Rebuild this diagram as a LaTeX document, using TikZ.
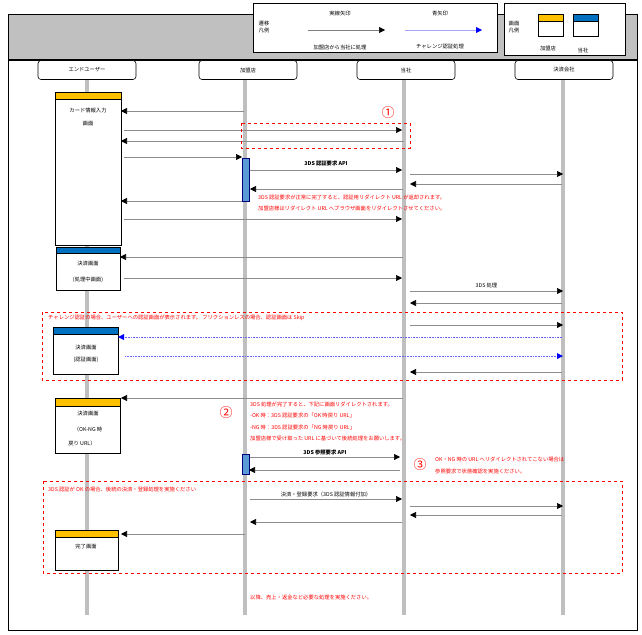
\documentclass[tikz,border=0pt]{standalone}
\usepackage{fontspec}
\setmainfont{Noto Sans CJK JP}
\usetikzlibrary{arrows.meta}
\definecolor{hdr}{HTML}{C0C0C0}
\definecolor{ora}{HTML}{FFC000}
\definecolor{blu}{HTML}{0070C0}
\definecolor{act}{HTML}{5B9BD5}
\definecolor{lg}{HTML}{BFBFBF}
\definecolor{rd}{HTML}{FF0000}
\begin{document}
\begin{tikzpicture}[x=1pt,y=-1pt,font=\fontsize{5.3}{6.5}\selectfont,
  msg/.style={draw=gray!90,line width=0.6pt,-{Triangle[length=6pt,width=6pt,color=black]}},
  bmsg/.style={draw=blue!60,densely dotted,line width=0.6pt,-{Triangle[length=6pt,width=6pt,color=blue,line width=0pt]}},
  actor/.style={draw,rounded corners=3pt,line width=0.6pt,minimum width=98pt,minimum height=19pt,fill=white},
  scr/.style={draw,line width=1pt,fill=white},
  rbox/.style={draw=rd,dashed,line width=0.8pt},
  rtxt/.style={text=rd,anchor=west,inner sep=0pt},
  lbl/.style={anchor=south,inner sep=1pt},
  circ/.style={text=rd,font=\fontsize{13}{13}\selectfont,inner sep=0pt}]
\useasboundingbox (0,0) rectangle (642,634);
% frame
\fill[hdr] (8,15) rectangle (637,60);
\draw[line width=1pt] (8,15) rectangle (637,630);
\draw[line width=1.2pt] (8,60) -- (637,60);
% legends
\draw[line width=1pt,fill=white] (253,4) rectangle (497,53);
\node[align=left] at (264,27) {遷移\\凡例};
\node at (340,13) {実線矢印};
\draw[msg,draw=gray] (308,30) -- (385,30);
\node at (440,13) {青矢印};
\draw[blue!35,line width=0.8pt] (405,30) -- (477,30);
\fill[blue] (476,27) -- (482,30) -- (476,33) -- cycle;
\node at (340,47) {加盟店から当社に処理};
\node at (440,47) {チャレンジ認証処理};
\draw[line width=1pt,fill=white] (504,4) rectangle (625,56);
\node[align=left] at (514,27) {画面\\凡例};
\draw[line width=0.8pt,fill=white] (538,14) rectangle (563,36);
\draw[line width=0.8pt,fill=ora] (538,14) rectangle (563,21);
\draw[line width=0.8pt,fill=white] (573,14) rectangle (598,36);
\draw[line width=0.8pt,fill=blu] (573,14) rectangle (598,21);
\node at (548,48) {加盟店};
\node at (583,50) {当社};
% lifelines
\foreach \x in {87,245,404,563} {
  \fill[lg] (\x-2,80) rectangle (\x+2,615);
}
\node[actor] (U) at (87,70) {エンドユーザー};
\node[actor] (M) at (248,70) {加盟店};
\node[actor] (S) at (406,70) {当社};
\node[actor] (P) at (564,70) {決済会社};
% screens
\draw[scr] (55,92) rectangle (121,245); \draw[scr,fill=ora] (55,92) rectangle (121,99);
\node at (88,110) {カード情報入力}; \node at (88,124) {画面};
\draw[scr] (56,247) rectangle (120,290); \draw[scr,fill=blu] (56,247) rectangle (120,253);
\node at (88,264) {決済画面}; \node at (88,280) {(処理中画面)};
\draw[scr] (53,327) rectangle (118,374); \draw[scr,fill=blu] (53,327) rectangle (118,334);
\node at (86,348) {決済画面}; \node at (86,360) {(認証画面)};
\draw[scr] (55,398) rectangle (120,453); \draw[scr,fill=ora] (55,398) rectangle (120,406);
\node at (88,414) {決済画面}; \node at (88,429) {（OK-NG 時}; \node at (82,443) {戻り URL）};
\draw[scr] (55,530) rectangle (118,570); \draw[scr,fill=ora] (55,530) rectangle (118,537);
\node at (86,546) {完了画面};
% activation bars
\draw[blue!50!black,fill=act] (242,158) rectangle (249,201);
\draw[blue!50!black,fill=act] (242,454) rectangle (249,474);
% messages
\draw[msg] (244,111) -- (121,111);
\draw[msg] (124,130) -- (402,130);
\draw[msg] (404,141) -- (121,141);
\draw[msg] (124,157) -- (242,157);
\draw[msg] (250,170) -- node[lbl,font=\fontsize{5.3}{6.5}\selectfont\bfseries,yshift=3pt] {3DS 認証要求 API} (402,170);
\draw[msg] (410,174) -- (563,174);
\draw[msg] (562,184) -- (410,184);
\draw[msg] (403,189) -- (250,189);
\draw[msg] (242,201) -- (121,201);
\draw[msg] (124,219) -- (402,219);
\node[rtxt] at (258,197) {3DS 認証要求が正常に完了すると、認証用リダイレクト URL が返却されます。};
\node[rtxt] at (258,208) {加盟店様はリダイレクト URL へブラウザ画面をリダイレクトさせてください。};
\draw[rbox] (241,123) rectangle (410,148);
\node[circ] at (388,113) {①};
\draw[msg] (403,257) -- (120,257);
\draw[msg] (124,278) -- (402,278);
\draw[msg] (410,291) -- node[lbl,yshift=2pt] {3DS 処理} (563,291);
\draw[msg] (562,303) -- (410,303);
\draw[rbox] (42,312) rectangle (622,380);
\node[rtxt] at (48,318) {チャレンジ認証の場合、ユーザーへの認証画面が表示されます。 フリクションレスの場合、認証画面は Skip};
\draw[msg] (410,325) -- (563,325);
\draw[bmsg] (562,337) -- (118,337);
\draw[bmsg] (125,356) -- (563,356);
\draw[msg] (562,372) -- (410,372);
\draw[msg] (403,398) -- (121,398);
\node[circ] at (226,413) {②};
\node[rtxt] at (250,404) {3DS 処理が完了すると、下記に画面リダイレクトされます。};
\node[rtxt] at (250,415) {-OK 時：3DS 認証要求の「OK 時戻り URL」};
\node[rtxt] at (250,427) {-NG 時：3DS 認証要求の「NG 時戻り URL」};
\node[rtxt] at (250,438) {加盟店様で受け取った URL に基づいて後続処理をお願いします。};
\draw[msg] (250,457) -- node[lbl,font=\fontsize{5.3}{6.5}\selectfont\bfseries,yshift=1pt] {3DS 参照要求 API} (400,457);
\draw[msg] (400,470) -- (249,470);
\node[circ] at (420,465) {③};
\node[rtxt] at (435,459) {OK・NG 時の URL へリダイレクトされてこない場合は};
\node[rtxt] at (435,471) {参照要求で状態確認を実施ください。};
\draw[rbox] (43,481) rectangle (622,573);
\node[rtxt] at (48,489) {3DS 認証が OK の場合、後続の決済・登録処理を実施ください};
\draw[msg] (250,499) -- node[lbl,yshift=1pt] {決済・登録要求（3DS 認証情報付加）} (402,499);
\draw[msg] (410,506) -- (563,506);
\draw[msg] (562,515) -- (410,515);
\draw[msg] (402,522) -- (250,522);
\draw[msg] (245,534) -- (121,534);
\node[rtxt] at (250,597) {以降、売上・返金など必要な処理を実施ください。};
\end{tikzpicture}
\end{document}
